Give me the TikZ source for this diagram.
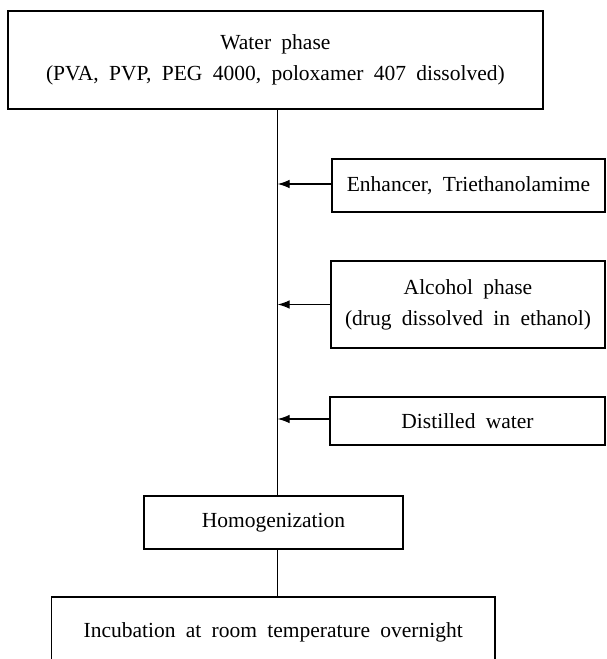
\documentclass[tikz,border=0pt]{standalone}
\usepackage{fontspec}
\setmainfont{Liberation Serif}
\usetikzlibrary{arrows.meta}
\newcommand\mywordspace{\spaceskip=0.48em plus 0.1em minus 0.05em\relax}
\tikzset{
  txt/.style={font=\fontsize{21.5}{31}\selectfont\mywordspace},
  box/.style={draw, line width=1.4pt, rectangle, inner sep=0pt, align=center, txt},
  conn/.style={line width=1.2pt},
  feed/.style={line width=1.2pt, -{Latex[length=12pt,width=8.5pt]}}
}
\begin{document}
\begin{tikzpicture}[x=1pt,y=-1pt]
\clip (0,0) rectangle (607,659);
\useasboundingbox (0,0) rectangle (607,659);
\coordinate (vx) at (277.6,0);
\node[box, minimum width=535pt, minimum height=98pt] (water) at (275.4,59.8)
  {Water phase\\(PVA, PVP, PEG 4000, poloxamer 407 dissolved)};
\node[box, minimum width=273pt, minimum height=53pt] (enh) at (468.5,185.5)
  {Enhancer, Triethanolamime};
\node[box, minimum width=274pt, minimum height=87pt] (alc) at (468,304.5)
  {Alcohol phase\\(drug dissolved in ethanol)};
\node[box, minimum width=275pt, minimum height=48pt] (dist) at (467.5,421)
  {Distilled water};
\node[box, minimum width=259pt, minimum height=53pt] (homog) at (273.5,522.5)
  {Homogenization};
\node[box, minimum width=443.5pt, minimum height=70pt] (incub) at (273.2,632)
  {Incubation at room temperature overnight};
\draw[conn] (water.south -| vx) -- (homog.north -| vx);
\draw[conn] (homog.south -| vx) -- (incub.north -| vx);
\draw[feed] ([yshift=1.5pt]enh.west) -- ([yshift=1.5pt]enh.west -| vx);
\draw[feed] (alc.west) -- (alc.west -| vx);
\draw[feed] ([yshift=2pt]dist.west) -- ([yshift=2pt]dist.west -| vx);
\end{tikzpicture}
\end{document}
